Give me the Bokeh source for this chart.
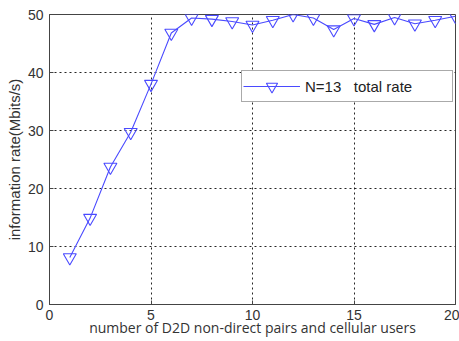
from bokeh.plotting import figure
from bokeh.embed import file_html
from bokeh.resources import INLINE
from bokeh.models import FixedTicker, Range1d

users = [1, 2, 3, 4, 5, 6, 7, 8, 9, 10, 11, 12, 13, 14, 15, 16, 17, 18, 19, 20]
total_rate = [8.1, 14.9, 23.7, 29.7, 38.0, 46.8, 49.4, 49.2, 48.8, 48.2,
              49.0, 50.0, 49.4, 47.4, 49.3, 48.3, 49.5, 48.4, 49.0, 49.7]
x_ticks = [0, 5, 10, 15, 20]
y_ticks = [0, 10, 20, 30, 40, 50]
series_label = "N=13   total rate"

blue = "#4a4aff"

p = figure(width=459, height=341, output_backend="svg", toolbar_location=None,
           x_range=Range1d(0, 20), y_range=Range1d(0, 50),
           min_border_left=49, min_border_right=4, min_border_top=14, min_border_bottom=37)

p.line(users, total_rate, line_color=blue, line_width=1.1, legend_label=series_label)
p.scatter(users, total_rate, marker="inverted_triangle", size=13, fill_color=None,
          line_color=blue, line_width=1.1, legend_label=series_label)

p.xaxis.ticker = FixedTicker(ticks=x_ticks)
p.yaxis.ticker = FixedTicker(ticks=y_ticks)
p.xaxis.axis_label = "number of D2D non-direct pairs and cellular users"
p.yaxis.axis_label = "information rate(Mbits/s)"

for ax in (p.xaxis[0], p.yaxis[0]):
    ax.major_tick_in = 4
    ax.major_tick_out = 0
    ax.minor_tick_line_color = None
    ax.axis_line_color = "#444444"
    ax.major_tick_line_color = "#444444"
    ax.major_label_text_font = "Liberation Sans"
    ax.major_label_text_font_size = "14px"
    ax.major_label_text_color = "#333333"
    ax.axis_label_text_font_style = "normal"
    ax.axis_label_text_color = "#333333"

p.xaxis.major_label_standoff = 5
p.xaxis.axis_label_standoff = -5
p.xaxis.axis_label_text_font = "Open Sans"
p.xaxis.axis_label_text_font_size = "14px"
p.yaxis.major_label_standoff = 6
p.yaxis.axis_label_standoff = 2
p.yaxis.axis_label_text_font = "Liberation Sans"
p.yaxis.axis_label_text_font_size = "15px"

p.grid.grid_line_color = "black"
p.grid.grid_line_dash = "2 3"
p.grid.grid_line_width = 1
p.grid.grid_line_alpha = 0.85

p.outline_line_color = "#444444"
p.outline_line_width = 1

leg = p.legend[0]
leg.location = (192, 202)
leg.border_line_color = "#555555"
leg.border_line_width = 1
leg.background_fill_color = "white"
leg.background_fill_alpha = 1
leg.label_text_font = "Liberation Sans"
leg.label_text_font_size = "15px"
leg.label_text_color = "#222222"
leg.glyph_width = 57
leg.glyph_height = 28
leg.label_standoff = 5
leg.label_width = 146
leg.padding = 1
leg.margin = 0
leg.label_height = 28

open("out.html", "w").write(file_html(p, INLINE))
